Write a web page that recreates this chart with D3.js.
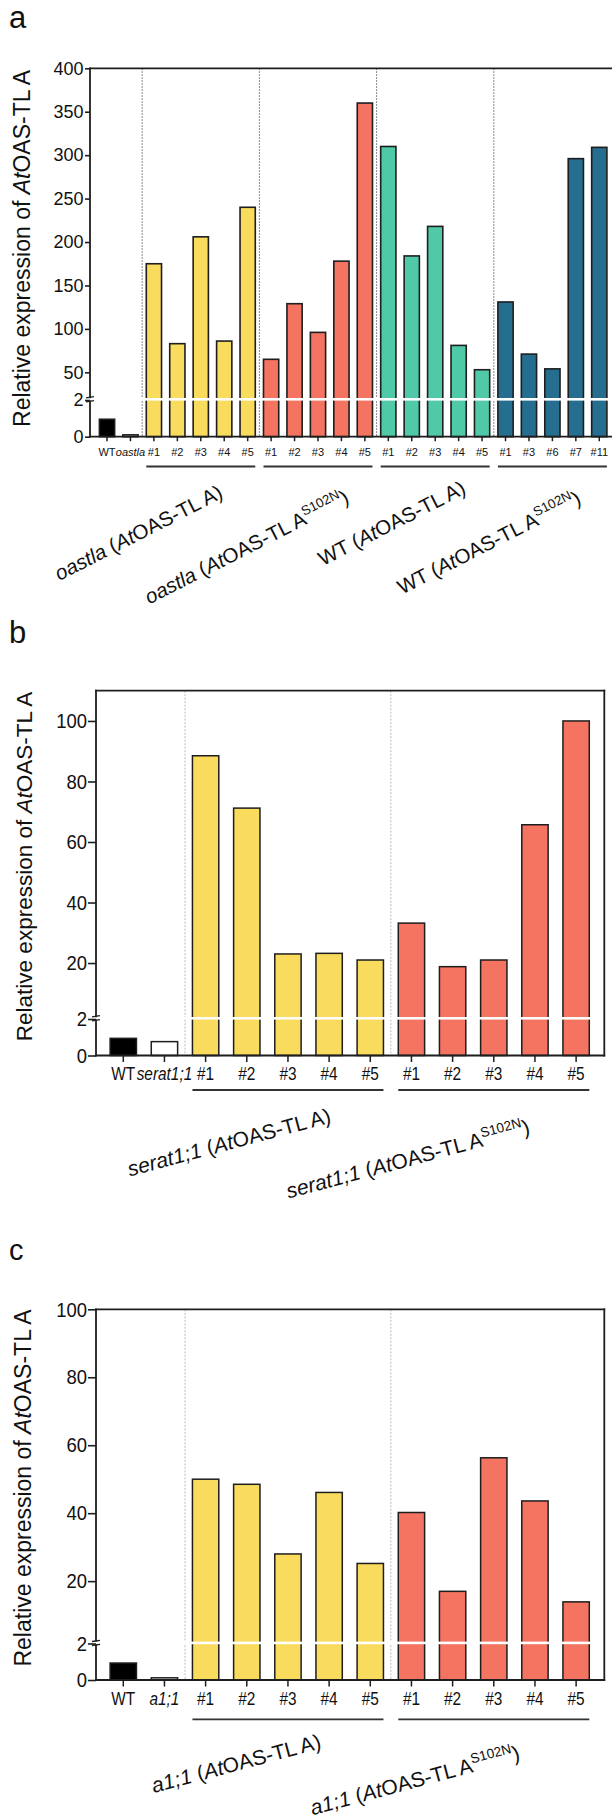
<!DOCTYPE html>
<html>
<head>
<meta charset="utf-8">
<script src="https://cdn.jsdelivr.net/npm/d3@7"></script>
<style>
  html, body { margin: 0; padding: 0; background: #fff; }
  svg { display: block; font-family: "Liberation Sans", Arial, Helvetica, sans-serif; }
</style>
</head>
<body>
<svg id="fig" width="612" height="1818"></svg>
<script>
// ---------- data ----------
// Panel a: oastla / WT backgrounds complemented with AtOAS-TL A or the S102N variant
const labelsA = ["WT", "oastla", "#1", "#2", "#3", "#4", "#5", "#1", "#2", "#3", "#4", "#5",
                 "#1", "#2", "#3", "#4", "#5", "#1", "#3", "#6", "#7", "#11"];
const valuesA = [0.95, 0.1, 175, 83, 206, 86, 240, 65, 129, 96, 178, 360,
                 310, 184, 218, 81, 53, 131, 71, 54, 296, 309];
// -1 = wild-type control, -2 = mutant control, 0..3 = transgenic line groups
const groupOfA = [-1, -2, 0, 0, 0, 0, 0, 1, 1, 1, 1, 1, 2, 2, 2, 2, 2, 3, 3, 3, 3, 3];
const groupNamesA = [
  "<i>oastla</i> (<i>At</i>OAS-TL A)",
  "<i>oastla</i> (<i>At</i>OAS-TL A<sup>S102N</sup>)",
  "WT (<i>At</i>OAS-TL A)",
  "WT (<i>At</i>OAS-TL A<sup>S102N</sup>)"
];
const yTicksA = [50, 100, 150, 200, 250, 300, 350, 400];

// Panel b: serat1;1 background
const labelsB = ["WT", "serat1;1", "#1", "#2", "#3", "#4", "#5", "#1", "#2", "#3", "#4", "#5"];
const valuesB = [0.94, 0.76, 88.5, 71.2, 23, 23.2, 21, 33.2, 18.8, 21, 65.7, 100];
const groupOfB = [-1, -2, 0, 0, 0, 0, 0, 1, 1, 1, 1, 1];
const groupNamesB = [
  "<i>serat1;1</i> (<i>At</i>OAS-TL A)",
  "<i>serat1;1</i> (<i>At</i>OAS-TL A<sup>S102N</sup>)"
];

// Panel c: a1;1 background
const labelsC = ["WT", "a1;1", "#1", "#2", "#3", "#4", "#5", "#1", "#2", "#3", "#4", "#5"];
const valuesC = [0.93, 0.12, 50, 48.5, 28, 46.1, 25.2, 40.2, 17, 56.3, 43.6, 13.9];
const groupOfC = [-1, -2, 0, 0, 0, 0, 0, 1, 1, 1, 1, 1];
const groupNamesC = [
  "<i>a1;1</i> (<i>At</i>OAS-TL A)",
  "<i>a1;1</i> (<i>At</i>OAS-TL A<sup>S102N</sup>)"
];
const yTicksBC = [20, 40, 60, 80, 100];
const lowerTicks = [0, 2];

const groupColors = ["#F9DB5E", "#F47361", "#4FC9A7", "#256E8F"];
const yTitle = "Relative expression of <i>At</i>OAS-TL A";

// ---------- helpers ----------
const svg = d3.select("#fig");
const INK = "#1e1e1e";
const fmt = d3.format("~g");

// writes simple markup (<i>, <sup>) into a text element as tspans
function rich(textSel, markup, size) {
  const re = /<(i|sup)>(.*?)<\/\1>|([^<]+)/g;
  let m, lift = 0;
  while ((m = re.exec(markup))) {
    const ts = textSel.append("tspan");
    if (m[1] === "sup") {
      lift = size * 0.42;
      ts.attr("font-size", size * 0.65).attr("dy", -lift).text(m[2]);
      continue;
    }
    if (m[1] === "i") ts.attr("font-style", "italic").text(m[2]);
    else ts.text(m[3]);
    if (lift) { ts.attr("dy", lift); lift = 0; }
  }
}

function drawPanel(p) {
  const g = svg.append("g");
  const n = p.labels.length;
  const x = d3.scaleBand().domain(d3.range(n)).range(p.xRange)
    .paddingInner(p.pad).paddingOuter(p.pad / 2);
  const yUp = d3.scaleLinear().domain(p.upDomain).range(p.upRange);
  const yLo = d3.scaleLinear().domain([0, 2]).range(p.loRange);
  const yOf = v => (v <= 2 ? yLo(v) : yUp(v));
  const bw = x.bandwidth();
  const half = (x.step() - bw) / 2;
  const fillOf = gi => (gi === -1 ? "#000" : gi === -2 ? "#fff" : groupColors[gi]);

  const groupIds = Array.from(new Set(p.groups.filter(v => v >= 0)));
  const firstOf = k => p.groups.indexOf(k);
  const lastOf = k => p.groups.lastIndexOf(k);

  // dotted separators between groups
  g.selectAll("line.sep").data(groupIds).join("line")
    .attr("x1", k => x(firstOf(k)) - half).attr("x2", k => x(firstOf(k)) - half)
    .attr("y1", p.top).attr("y2", p.bottom)
    .attr("stroke", p.sepColor).attr("stroke-width", 1)
    .attr("stroke-dasharray", p.sepDash);

  // bars
  g.selectAll("rect.bar").data(p.values).join("rect")
    .attr("x", (d, i) => x(i)).attr("width", bw)
    .attr("y", d => yOf(d)).attr("height", d => p.bottom - yOf(d))
    .attr("fill", (d, i) => fillOf(p.groups[i]))
    .attr("stroke", INK).attr("stroke-width", p.barStroke);

  // axis break: white band across the plot
  g.append("rect")
    .attr("x", p.left + 1).attr("width", p.right - p.left - 2)
    .attr("y", p.breakY - 1.3).attr("height", 2.6).attr("fill", "#fff");

  // frame
  const frame = [
    [p.left, p.top, p.left, p.breakY - 2],
    [p.left, p.breakY + 2, p.left, p.bottom],
    [p.left, p.bottom, p.right, p.bottom],
    [p.left, p.top, p.right, p.top]
  ];
  if (p.rightBorder) frame.push([p.right, p.top, p.right, p.bottom]);
  g.selectAll("line.frame").data(frame).join("line")
    .attr("x1", d => d[0]).attr("y1", d => d[1]).attr("x2", d => d[2]).attr("y2", d => d[3])
    .attr("stroke", INK).attr("stroke-width", 1.8).attr("stroke-linecap", "square");

  // break marks on the y axis
  g.selectAll("line.brk").data([-2, 2]).join("line")
    .attr("x1", p.left - 4).attr("x2", p.left + 4)
    .attr("y1", d => p.breakY + d + 0.6).attr("y2", d => p.breakY + d - 0.6)
    .attr("stroke", INK).attr("stroke-width", 1.3);

  // y axes (upper and lower segments)
  const styleY = sel => {
    sel.select(".domain").remove();
    sel.attr("font-family", null).attr("font-size", null);
    sel.selectAll(".tick line").attr("stroke", INK).attr("stroke-width", 1.6);
    sel.selectAll(".tick text")
      .attr("font-size", p.yFont).attr("fill", "#111")
      .attr("transform", `scale(${p.ySx},1)`)
      .attr("x", -(p.tickLen + p.tickPad) / p.ySx);
  };
  g.append("g").attr("transform", `translate(${p.left},0)`)
    .call(d3.axisLeft(yUp).tickValues(p.ticks).tickFormat(fmt)
      .tickSize(p.tickLen).tickSizeOuter(0).tickPadding(p.tickPad))
    .call(styleY);
  g.append("g").attr("transform", `translate(${p.left},0)`)
    .call(d3.axisLeft(yLo).tickValues(lowerTicks).tickFormat(fmt)
      .tickSize(p.tickLen).tickSizeOuter(0).tickPadding(p.tickPad))
    .call(styleY);

  // x axis with line labels
  const xa = g.append("g").attr("transform", `translate(0,${p.bottom})`)
    .call(d3.axisBottom(x).tickFormat(i => p.labels[i]).tickSize(p.xTickLen).tickSizeOuter(0));
  xa.select(".domain").remove();
  xa.attr("font-family", null).attr("font-size", null);
  xa.selectAll(".tick line").attr("stroke", INK).attr("stroke-width", 1.5);
  xa.selectAll(".tick text")
    .attr("font-size", p.xFont).attr("fill", "#111")
    .attr("font-style", i => (p.groups[i] === -2 ? "italic" : null))
    .attr("dy", null).attr("y", p.xLabelBase - p.bottom)
    .attr("transform", `scale(${p.xSx},1)`);

  // group underlines
  g.selectAll("line.under").data(groupIds).join("line")
    .attr("x1", k => x(firstOf(k))).attr("x2", k => x(lastOf(k)) + bw)
    .attr("y1", p.underY).attr("y2", p.underY)
    .attr("stroke", "#333").attr("stroke-width", 1.8);

  // rotated group names, anchored relative to each group's centre
  groupIds.forEach((k, j) => {
    const cx = (x(firstOf(k)) + x(lastOf(k)) + bw) / 2 + p.glDx[j];
    const cy = p.bottom + p.glDy[j];
    const t = g.append("text")
      .attr("transform", `translate(${cx},${cy}) rotate(${-p.glAngle})`)
      .attr("text-anchor", p.glAnchor).attr("font-size", p.glFont).attr("fill", "#111");
    rich(t, p.names[j], p.glFont);
  });

  // y-axis title
  const tt = g.append("text")
    .attr("transform", `translate(${p.titleX},${p.titleY}) rotate(-90)`)
    .attr("text-anchor", "middle").attr("font-size", p.titleFont).attr("fill", "#111");
  rich(tt, yTitle, p.titleFont);

  // panel letter
  g.append("text").attr("x", p.letterX).attr("y", p.letterY)
    .attr("font-size", p.letterFont).attr("fill", "#111").text(p.letter);
}

// ---------- panels ----------
drawPanel({
  labels: labelsA, values: valuesA, groups: groupOfA, names: groupNamesA, ticks: yTicksA,
  left: 90, right: 612, top: 68.3, bottom: 436.7,
  xRange: [95.3, 611], pad: 0.35,
  upDomain: [20, 400], upRange: [398.4, 68.3], loRange: [436.7, 400], breakY: 399.3,
  tickLen: 5, tickPad: 1.5, yFont: 18, ySx: 1,
  xFont: 11, xSx: 1, xTickLen: 4.5, xLabelBase: 456, underY: 466.5,
  sepColor: "#666", sepDash: "1.5,1.5", barStroke: 1.6, rightBorder: false,
  glFont: 20.5, glAngle: 27, glAnchor: "end",
  glDx: [23.4, 32.4, 31.8, 29.9], glDy: [60.3, 65.3, 56, 66.2],
  titleX: 30, titleY: 248.4, titleFont: 23,
  letter: "a", letterX: 9, letterY: 28, letterFont: 31
});

drawPanel({
  labels: labelsB, values: valuesB, groups: groupOfB, names: groupNamesB, ticks: yTicksBC,
  left: 96, right: 604.3, top: 690.7, bottom: 1055.5,
  xRange: [102.7, 596.7], pad: 0.36,
  upDomain: [2, 110], upRange: [1017.5, 690.7], loRange: [1055.5, 1019], breakY: 1018.3,
  tickLen: 8, tickPad: 1, yFont: 21, ySx: 0.88,
  xFont: 17.5, xSx: 0.88, xTickLen: 6.5, xLabelBase: 1080, underY: 1090,
  sepColor: "#bbb", sepDash: "2,1.5", barStroke: 1.5, rightBorder: true,
  glFont: 21, glAngle: 15, glAnchor: "middle", glDx: [-57, -84], glDy: [93.8, 110.5],
  titleX: 31.5, titleY: 866.5, titleFont: 22.5,
  letter: "b", letterX: 9, letterY: 643, letterFont: 31
});

drawPanel({
  labels: labelsC, values: valuesC, groups: groupOfC, names: groupNamesC, ticks: yTicksBC,
  left: 96, right: 604.3, top: 1309.3, bottom: 1680,
  xRange: [102.7, 596.7], pad: 0.36,
  upDomain: [2, 100], upRange: [1642.3, 1309.3], loRange: [1680, 1643.5], breakY: 1642.9,
  tickLen: 8, tickPad: 1, yFont: 21, ySx: 0.88,
  xFont: 17.5, xSx: 0.88, xTickLen: 6.5, xLabelBase: 1705, underY: 1719.3,
  sepColor: "#bbb", sepDash: "2,1.5", barStroke: 1.5, rightBorder: true,
  glFont: 21, glAngle: 15, glAnchor: "middle", glDx: [-50, -77], glDy: [90.5, 107.3],
  titleX: 31, titleY: 1488, titleFont: 23,
  letter: "c", letterX: 9, letterY: 1260, letterFont: 29
});
</script>
</body>
</html>
